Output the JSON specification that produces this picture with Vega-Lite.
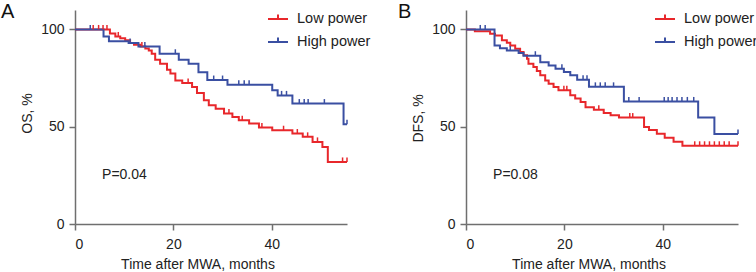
{
  "$schema": "https://vega.github.io/schema/vega-lite/v6.json",
  "padding": {"left": 1, "top": 2, "right": 0, "bottom": 0},
  "background": "white",
  "config": {
    "view": {"stroke": null},
    "font": "Liberation Sans",
    "axis": {"domainColor": "#6f6f6f", "tickColor": "#6f6f6f", "domainWidth": 1.5, "tickWidth": 1.5, "tickSize": 6, "labelFontSize": 14, "titleFontSize": 14, "titleFontWeight": "normal", "labelColor": "#222222", "titleColor": "#222222", "grid": false},
    "legend": {"labelFont": "Liberation Sans"},
    "title": {"font": "Liberation Sans"}
  },
  "datasets": {
    "A_curve": [
      {"g":"Low power","t":0,"s":100},{"g":"Low power","t":7.1,"s":97.9},{"g":"Low power","t":8.2,"s":96.4},{"g":"Low power","t":9.2,"s":95.5},{"g":"Low power","t":10.2,"s":94.5},{"g":"Low power","t":11.2,"s":93.0},{"g":"Low power","t":12.0,"s":92.2},{"g":"Low power","t":13.3,"s":91.3},{"g":"Low power","t":14.3,"s":90.2},{"g":"Low power","t":15.0,"s":89.2},{"g":"Low power","t":15.6,"s":87.5},{"g":"Low power","t":16.3,"s":84.4},{"g":"Low power","t":17.3,"s":82.4},{"g":"Low power","t":18.7,"s":79.3},{"g":"Low power","t":19.4,"s":77.3},{"g":"Low power","t":20.4,"s":73.8},{"g":"Low power","t":21.8,"s":72.5},{"g":"Low power","t":23.8,"s":70.4},{"g":"Low power","t":24.8,"s":67.4},{"g":"Low power","t":26.2,"s":63.6},{"g":"Low power","t":27.2,"s":61.0},{"g":"Low power","t":28.6,"s":59.3},{"g":"Low power","t":30.3,"s":56.8},{"g":"Low power","t":32.0,"s":55.0},{"g":"Low power","t":33.3,"s":53.3},{"g":"Low power","t":35.4,"s":51.6},{"g":"Low power","t":37.4,"s":49.6},{"g":"Low power","t":40.1,"s":48.2},{"g":"Low power","t":44.2,"s":46.5},{"g":"Low power","t":46.3,"s":44.8},{"g":"Low power","t":48.3,"s":42.2},{"g":"Low power","t":50.3,"s":39.6},{"g":"Low power","t":51.4,"s":31.9},{"g":"Low power","t":55.3,"s":31.9},
      {"g":"High power","t":0,"s":100},{"g":"High power","t":5.8,"s":96.4},{"g":"High power","t":6.9,"s":94.0},{"g":"High power","t":10.9,"s":93.0},{"g":"High power","t":12.9,"s":91.3},{"g":"High power","t":17.2,"s":87.5},{"g":"High power","t":21.1,"s":84.4},{"g":"High power","t":23.1,"s":82.4},{"g":"High power","t":25.1,"s":78.0},{"g":"High power","t":26.9,"s":74.0},{"g":"High power","t":31.0,"s":71.6},{"g":"High power","t":40.1,"s":68.7},{"g":"High power","t":41.2,"s":66.1},{"g":"High power","t":44.2,"s":61.9},{"g":"High power","t":54.6,"s":51.3},{"g":"High power","t":55.3,"s":51.3}
    ],
    "A_cens": [
      {"g":"Low power","t":3.7,"s":100},{"g":"Low power","t":4.8,"s":100},{"g":"Low power","t":5.7,"s":100},{"g":"Low power","t":6.5,"s":100},{"g":"Low power","t":8.8,"s":96.4},{"g":"Low power","t":13.6,"s":91.3},{"g":"Low power","t":23.0,"s":72.5},{"g":"Low power","t":31.3,"s":56.8},{"g":"Low power","t":34.0,"s":53.3},{"g":"Low power","t":38.0,"s":49.6},{"g":"Low power","t":42.4,"s":48.2},{"g":"Low power","t":45.2,"s":46.5},{"g":"Low power","t":47.3,"s":44.8},{"g":"Low power","t":49.3,"s":42.2},{"g":"Low power","t":54.4,"s":31.9},{"g":"Low power","t":55.3,"s":31.9},
      {"g":"High power","t":3.1,"s":100},{"g":"High power","t":11.2,"s":93.0},{"g":"High power","t":14.2,"s":91.3},{"g":"High power","t":20.4,"s":87.5},{"g":"High power","t":28.2,"s":74.0},{"g":"High power","t":30.0,"s":74.0},{"g":"High power","t":33.3,"s":71.6},{"g":"High power","t":34.4,"s":71.6},{"g":"High power","t":35.4,"s":71.6},{"g":"High power","t":42.0,"s":66.1},{"g":"High power","t":43.0,"s":66.1},{"g":"High power","t":45.6,"s":61.9},{"g":"High power","t":46.6,"s":61.9},{"g":"High power","t":47.4,"s":61.9},{"g":"High power","t":50.7,"s":61.9},{"g":"High power","t":55.3,"s":51.3}
    ],
    "B_curve": [
      {"g":"Low power","t":0,"s":100},{"g":"Low power","t":1.8,"s":99.1},{"g":"Low power","t":4.9,"s":97.8},{"g":"Low power","t":5.9,"s":96.9},{"g":"Low power","t":7.3,"s":94.4},{"g":"Low power","t":8.3,"s":93.2},{"g":"Low power","t":9.0,"s":91.8},{"g":"Low power","t":10.0,"s":90.1},{"g":"Low power","t":11.0,"s":88.4},{"g":"Low power","t":11.7,"s":86.7},{"g":"Low power","t":12.4,"s":85.0},{"g":"Low power","t":12.7,"s":82.4},{"g":"Low power","t":13.7,"s":80.7},{"g":"Low power","t":14.4,"s":78.6},{"g":"Low power","t":15.1,"s":76.4},{"g":"Low power","t":16.1,"s":73.8},{"g":"Low power","t":16.8,"s":72.1},{"g":"Low power","t":17.8,"s":70.4},{"g":"Low power","t":18.8,"s":68.7},{"g":"Low power","t":21.2,"s":66.2},{"g":"Low power","t":22.2,"s":64.5},{"g":"Low power","t":23.3,"s":62.7},{"g":"Low power","t":24.3,"s":60.0},{"g":"Low power","t":26.0,"s":58.7},{"g":"Low power","t":28.0,"s":57.1},{"g":"Low power","t":29.4,"s":55.9},{"g":"Low power","t":31.1,"s":54.7},{"g":"Low power","t":36.2,"s":49.9},{"g":"Low power","t":37.2,"s":48.3},{"g":"Low power","t":38.8,"s":46.4},{"g":"Low power","t":40.4,"s":44.3},{"g":"Low power","t":42.2,"s":42.3},{"g":"Low power","t":44.0,"s":40.2},{"g":"Low power","t":55.3,"s":40.2},
      {"g":"High power","t":0,"s":100},{"g":"High power","t":5.8,"s":91.8},{"g":"High power","t":6.9,"s":90.4},{"g":"High power","t":8.3,"s":89.2},{"g":"High power","t":10.7,"s":87.9},{"g":"High power","t":11.7,"s":86.5},{"g":"High power","t":15.1,"s":83.2},{"g":"High power","t":16.8,"s":81.5},{"g":"High power","t":18.2,"s":79.8},{"g":"High power","t":19.9,"s":78.1},{"g":"High power","t":21.2,"s":76.4},{"g":"High power","t":22.6,"s":74.2},{"g":"High power","t":25.0,"s":70.5},{"g":"High power","t":32.1,"s":63.0},{"g":"High power","t":47.2,"s":54.7},{"g":"High power","t":50.5,"s":46.3},{"g":"High power","t":55.3,"s":46.3}
    ],
    "B_cens": [
      {"g":"Low power","t":19.9,"s":68.7},{"g":"Low power","t":20.5,"s":68.7},{"g":"Low power","t":27.0,"s":58.7},{"g":"Low power","t":33.3,"s":54.7},{"g":"Low power","t":33.9,"s":54.7},{"g":"Low power","t":46.5,"s":40.2},{"g":"Low power","t":47.5,"s":40.2},{"g":"Low power","t":48.5,"s":40.2},{"g":"Low power","t":49.5,"s":40.2},{"g":"Low power","t":50.5,"s":40.2},{"g":"Low power","t":51.5,"s":40.2},{"g":"Low power","t":52.5,"s":40.2},{"g":"Low power","t":53.5,"s":40.2},{"g":"Low power","t":55.3,"s":40.2},
      {"g":"High power","t":2.9,"s":100},{"g":"High power","t":3.9,"s":100},{"g":"High power","t":9.0,"s":89.2},{"g":"High power","t":14.1,"s":86.5},{"g":"High power","t":19.5,"s":79.8},{"g":"High power","t":23.8,"s":74.2},{"g":"High power","t":24.6,"s":74.2},{"g":"High power","t":26.3,"s":70.5},{"g":"High power","t":27.3,"s":70.5},{"g":"High power","t":28.3,"s":70.5},{"g":"High power","t":30.0,"s":70.5},{"g":"High power","t":33.1,"s":63.0},{"g":"High power","t":35.2,"s":63.0},{"g":"High power","t":40.3,"s":63.0},{"g":"High power","t":41.1,"s":63.0},{"g":"High power","t":41.9,"s":63.0},{"g":"High power","t":42.9,"s":63.0},{"g":"High power","t":43.9,"s":63.0},{"g":"High power","t":45.0,"s":63.0},{"g":"High power","t":46.3,"s":63.0},{"g":"High power","t":55.3,"s":46.3}
    ]
  },
  "bounds": "flush",
  "spacing": 119,
  "resolve": {"scale": {"color": "independent"}, "legend": {"color": "independent"}},
  "hconcat": [
    {
      "width": 272, "height": 214,
      "title": {"text": "A", "anchor": "start", "frame": "group", "dx": -74, "dy": 30, "offset": 0, "fontSize": 20, "fontWeight": "normal", "color": "#111111", "baseline": "alphabetic"},
      "encoding": {
        "x": {"field": "t", "type": "quantitative", "scale": {"domain": [0, 55.3], "nice": false, "zero": false}, "axis": {"values": [0, 20, 40], "title": "Time after MWA, months", "labelPadding": 7, "titleX": 122.5, "titleY": 44, "titleBaseline": "alphabetic", "titleAlign": "center"}},
        "y": {"field": "s", "type": "quantitative", "scale": {"domain": [0, 110], "nice": false}, "axis": {"values": [0, 50, 100], "title": "OS, %", "labelPadding": 5, "titlePadding": 6, "titleY": 103}}
      },
      "layer": [
        {
          "data": {"name": "A_curve"},
          "mark": {"type": "line", "interpolate": "step-after", "strokeWidth": 2},
          "encoding": {
            "color": {"field": "g", "type": "nominal", "scale": {"domain": ["Low power", "High power"], "range": ["#e8272b", "#3a4fa2"]},
              "legend": {"orient": "none", "legendX": 192, "legendY": -2, "title": null, "symbolType": "M-1,0H1M0,0V-0.45", "symbolSize": 400, "symbolStrokeWidth": 2, "symbolFillColor": "transparent", "labelFontSize": 14.5, "labelColor": "#222222", "labelOffset": 8, "rowPadding": 5, "padding": 0}},
            "detail": {"field": "g"}
          }
        },
        {
          "data": {"name": "A_cens"},
          "mark": {"type": "point", "shape": "M0,0V-1", "filled": false, "size": 81, "strokeWidth": 1.5, "opacity": 1},
          "encoding": {"color": {"field": "g", "type": "nominal"}}
        },
        {
          "data": {"values": [{"t": 5.5, "s": 25, "label": "P=0.04"}]},
          "mark": {"type": "text", "align": "left", "baseline": "middle", "fontSize": 14, "color": "#222222"},
          "encoding": {"text": {"field": "label"}}
        }
      ]
    },
    {
      "width": 272, "height": 214,
      "title": {"text": "B", "anchor": "start", "frame": "group", "dx": -68, "dy": 30, "offset": 0, "fontSize": 20, "fontWeight": "normal", "color": "#111111", "baseline": "alphabetic"},
      "encoding": {
        "x": {"field": "t", "type": "quantitative", "scale": {"domain": [0, 55.3], "nice": false, "zero": false}, "axis": {"values": [0, 20, 40], "title": "Time after MWA, months", "labelPadding": 7, "titleX": 122.5, "titleY": 44, "titleBaseline": "alphabetic", "titleAlign": "center"}},
        "y": {"field": "s", "type": "quantitative", "scale": {"domain": [0, 110], "nice": false}, "axis": {"values": [0, 50, 100], "title": "DFS, %", "labelPadding": 5, "titlePadding": 6, "titleY": 108}}
      },
      "layer": [
        {
          "data": {"name": "B_curve"},
          "mark": {"type": "line", "interpolate": "step-after", "strokeWidth": 2},
          "encoding": {
            "color": {"field": "g", "type": "nominal", "scale": {"domain": ["Low power", "High power"], "range": ["#e8272b", "#3a4fa2"]},
              "legend": {"orient": "none", "legendX": 188, "legendY": -2, "title": null, "symbolType": "M-1,0H1M0,0V-0.45", "symbolSize": 400, "symbolStrokeWidth": 2, "symbolFillColor": "transparent", "labelFontSize": 14.5, "labelColor": "#222222", "labelOffset": 8, "rowPadding": 5, "padding": 0}},
            "detail": {"field": "g"}
          }
        },
        {
          "data": {"name": "B_cens"},
          "mark": {"type": "point", "shape": "M0,0V-1", "filled": false, "size": 81, "strokeWidth": 1.5, "opacity": 1},
          "encoding": {"color": {"field": "g", "type": "nominal"}}
        },
        {
          "data": {"values": [{"t": 5.5, "s": 25, "label": "P=0.08"}]},
          "mark": {"type": "text", "align": "left", "baseline": "middle", "fontSize": 14, "color": "#222222"},
          "encoding": {"text": {"field": "label"}}
        }
      ]
    }
  ]
}
